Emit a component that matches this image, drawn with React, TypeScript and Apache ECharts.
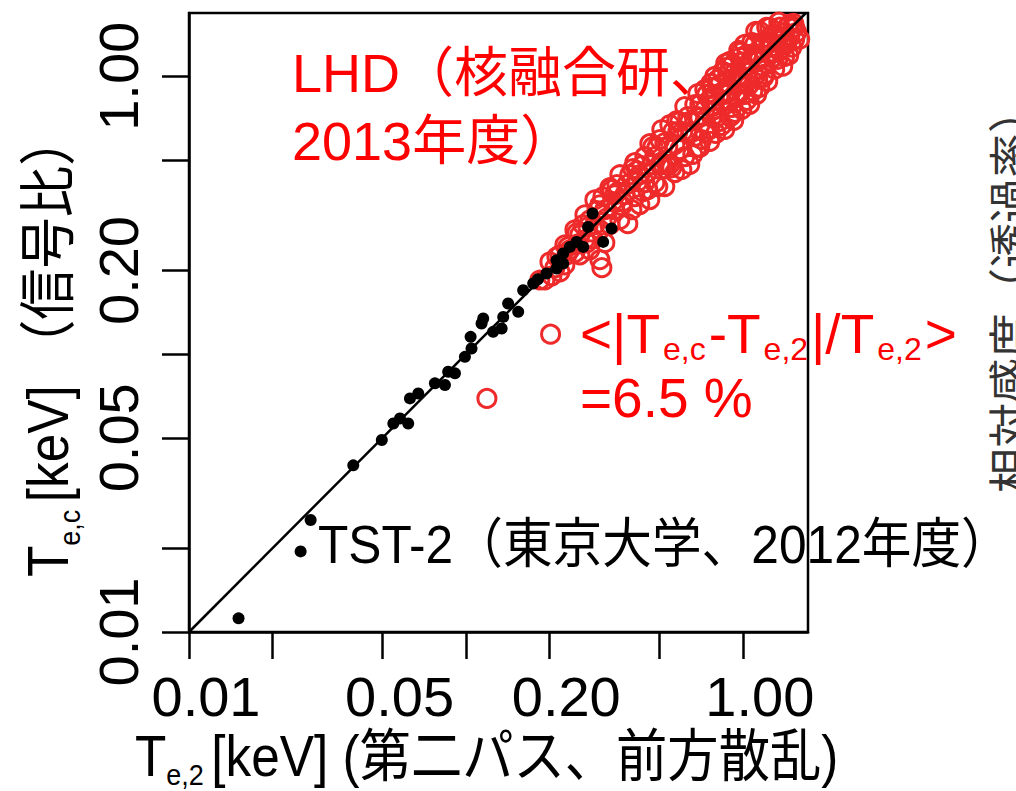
import React, { useEffect, useRef } from 'react';
import * as echarts from 'echarts';

// ---- axes ----
const AXIS_MIN = 0.01;
const X_MAX = 1.72;
const Y_MAX = 1.69;
const TICK_VALUES = [0.01, 0.02, 0.05, 0.1, 0.2, 0.5, 1];
const LABEL_VALUES = [0.01, 0.05, 0.2, 1];

// ---- y = x reference line ----
const DIAGONAL_X = [0.01, 1.69];
const DIAGONAL_Y = [0.01, 1.69];

// ---- TST-2 (東京大学, 2012) : Te,2 / Te,c [keV] ----
const TST2_TE2 = [
  0.0151, 0.0253, 0.0275, 0.0392, 0.0497, 0.0547, 0.0578, 0.0619, 0.0628, 0.0673,
  0.0773, 0.084, 0.0863, 0.0913, 0.0992, 0.1048, 0.104, 0.1139, 0.1155, 0.1254,
  0.1346, 0.1364, 0.1421, 0.1545, 0.161, 0.175, 0.182, 0.1955, 0.2126, 0.2126,
  0.2245, 0.2245, 0.2374, 0.251, 0.2652, 0.2764, 0.2867, 0.3357, 0.3131,
];
const TST2_TEC = [
  0.0112, 0.0195, 0.0253, 0.0398, 0.0491, 0.0563, 0.0587, 0.0563, 0.0693, 0.0722,
  0.0785, 0.0774, 0.0864, 0.0853, 0.0978, 0.1048, 0.1154, 0.129, 0.1344, 0.1203,
  0.1237, 0.1362, 0.1522, 0.142, 0.1699, 0.1796, 0.1861, 0.1951, 0.2033, 0.2178,
  0.212, 0.2302, 0.2432, 0.2535, 0.2432, 0.2871, 0.3207, 0.2833, 0.2535,
];

// ---- LHD (核融合研, 2013) : Te,2 / Te,c [keV] ----
const LHD_TE2 = [
  0.1849, 0.1928, 0.2011, 0.2096, 0.2185, 0.2185, 0.2278, 0.2278, 0.2335, 0.2374,
  0.2475, 0.2475, 0.2537, 0.258, 0.258, 0.269, 0.269, 0.2758, 0.2804, 0.2804,
  0.2923, 0.2923, 0.3047, 0.3047, 0.3047, 0.3098, 0.3176, 0.3176, 0.3311, 0.3311,
  0.3367, 0.3451, 0.3451, 0.3538, 0.3597, 0.3597, 0.3657, 0.3749, 0.3844, 0.3909,
  0.3975, 0.4074, 0.4074, 0.4178,
  0.4248, 0.4248, 0.4319, 0.4427, 0.4427, 0.454, 0.4616, 0.4616, 0.4694, 0.4811,
  0.4811, 0.4933, 0.5016, 0.5016, 0.51, 0.5228, 0.5228, 0.536, 0.545, 0.545,
  0.5542, 0.5681, 0.5681, 0.5825, 0.5923, 0.5923, 0.6023, 0.6173, 0.6173, 0.633,
  0.6436, 0.6436, 0.6544, 0.6708, 0.6708, 0.6877, 0.6993, 0.6993,
  0.7289, 0.7289, 0.7289, 0.76, 0.76, 0.7728, 0.7921, 0.7921, 0.8124, 0.826,
  0.826, 0.8399, 0.8607, 0.8607, 0.8827, 0.8975, 0.8975, 0.9126, 0.9353, 0.9353,
  0.9593, 0.9754, 0.9754, 0.9918, 1.0163, 1.0163, 1.0424, 1.0599, 1.0599, 1.0777,
  1.1044, 1.1044, 1.1328, 1.1518, 1.1518, 1.1518, 1.1712, 1.2, 1.2, 1.2308,
  1.2515, 1.2515, 1.2725, 1.304, 1.304, 1.3376, 1.3601, 1.3601, 1.383, 1.417,
  1.417, 1.4535, 1.4779, 1.4779, 1.5027, 1.5397, 1.5397, 1.5656,
  0.6993, 0.76, 0.7921, 0.8399, 0.8752, 0.9201, 0.951, 1.0, 1.0334, 1.0866,
  1.123, 1.1808, 1.2202, 1.283, 1.3259, 1.3944, 1.4408, 1.5151, 1.123, 0.9918,
  0.8752, 0.7728, 0.6821, 0.6277, 0.5776, 0.5316, 0.4892, 0.4501, 0.4142, 0.3812,
  0.3509, 0.3229, 0.2972, 0.2735, 0.2517, 0.2316, 0.2131, 0.2045,
  0.711, 0.7411, 0.7791, 0.8054, 0.8468, 0.89, 0.9275, 0.9673, 1.0078, 1.0511,
  1.0952, 1.1422, 1.19, 1.2411, 1.2931, 1.3488, 1.4052, 1.4656, 1.5269, 1.6048,
  0.6877, 0.6598, 0.6072, 0.5587, 0.5142, 0.4732, 0.4355, 0.4008, 0.3688, 0.3394,
  0.3124, 0.2875, 0.2645, 1.0334, 0.905, 0.7988, 1.1137, 0.9836, 0.8679, 0.7664,
  0.1191, 0.2022,
];
const LHD_TEC = [
  0.1849, 0.1849, 0.215, 0.2045, 0.2277, 0.1977, 0.2474, 0.2096, 0.2433, 0.2374,
  0.2802, 0.2317, 0.2496, 0.2688, 0.2278, 0.3174, 0.258, 0.2874, 0.3045, 0.2375,
  0.3595, 0.2923, 0.3449, 0.2803, 0.2188, 0.2048, 0.3309, 0.2519, 0.3973, 0.2924,
  0.3909, 0.3748, 0.331, 0.3842, 0.4424, 0.3047, 0.3423, 0.3749, 0.2948, 0.4425,
  0.3311, 0.3687, 0.4889, 0.4178,
  0.4426, 0.3454, 0.4773, 0.514, 0.4144, 0.3909, 0.5724, 0.36, 0.4812, 0.5143,
  0.4142, 0.4011, 0.5919, 0.481, 0.6431, 0.401, 0.5777, 0.5585, 0.6704, 0.4812,
  0.4694, 0.5681, 0.4505, 0.6326, 0.6877, 0.5449, 0.462, 0.7784, 0.5142, 0.7166,
  0.688, 0.4814, 0.6276, 0.7915, 0.6071, 0.8672, 0.5545, 0.711,
  0.8965, 0.6276, 0.7595, 0.8254, 0.5829, 0.711, 0.7596, 0.9988, 0.9749, 0.935,
  0.6881, 0.666, 0.6438, 0.8607, 1.0248, 1.1317, 0.8122, 0.773, 1.0335, 0.7417,
  0.9996, 0.9515, 1.1705, 1.1227, 0.8608, 1.3029, 0.9757, 1.133, 0.7928, 1.3256,
  1.3032, 0.9995, 0.9753, 0.9134, 1.4524, 1.171, 1.3258, 1.326, 1.0164, 0.96,
  1.5018, 1.2002, 1.2725, 1.0602, 1.394, 1.1517, 1.5029, 1.2309, 1.3603, 1.1804,
  1.4407, 1.5145, 1.3833, 1.54, 1.2728, 1.3596, 1.502, 1.4404,
  0.7916, 0.6437, 0.8602, 0.8752, 0.8192, 1.1041, 0.8397, 1.0, 1.1998, 0.8834,
  1.2005, 1.0863, 1.5008, 1.4177, 1.2715, 1.0876, 1.3039, 1.4903, 0.8613, 0.7607,
  1.0765, 0.9119, 0.5545, 0.6277, 0.6931, 0.4811, 0.5538, 0.4501, 0.4577, 0.4075,
  0.4074, 0.3097, 0.3284, 0.2516, 0.2733, 0.2278, 0.224, 0.1914,
  0.5923, 0.8604, 0.7791, 0.7112, 1.0416, 0.8754, 0.6938, 1.2401, 1.0773, 0.9281,
  1.2102, 1.1422, 0.9913, 1.3267, 1.1703, 1.566, 1.3153, 1.1915, 1.5524, 1.3593,
  0.7166, 0.5232, 0.6327, 0.6325, 0.4813, 0.5584, 0.3845, 0.4653, 0.3537, 0.3537,
  0.3686, 0.2602, 0.2923, 0.8195, 0.7177, 0.6231, 1.4517, 1.2197, 1.1127, 0.9427,
  0.0693, 0.118,
];

// ---- texts ----
const LHD_LABEL = 'LHD（核融合研、\n2013年度）';
const TST2_LABEL = 'TST-2（東京大学、2012年度）';
const MEAN_ERROR_LABEL = '{m|<|T}{s|e,c}{m|-T}{s|e,2}{m||/T}{s|e,2}{m|>}\n{n|=6.5 %}';
const X_TITLE = '{m|T}{s|e,2 }{m|[keV] (第二パス、前方散乱)}';
const Y_TITLE = '{m|T}{s|e,c }{m|[keV] （信号比）}';
const RIGHT_TEXT = '相対感度（透過率）';

const FONT = '"Liberation Sans", Arial, Helvetica, "Noto Sans CJK JP", sans-serif';
const RED = '#ff0000';
const CIRCLE_RED = '#ee2a2a';

function richSet(main: number, sub: number, pad: number, color: string, side = 0) {
  return {
    m: { fontSize: main, lineHeight: main, fontFamily: FONT, fill: color, verticalAlign: 'top' },
    s: { fontSize: sub, lineHeight: sub, fontFamily: FONT, fill: color, verticalAlign: 'top', padding: [pad, side, 0, side] },
    n: { fontSize: main, lineHeight: main, fontFamily: FONT, fill: color, verticalAlign: 'top', padding: [9, 0, 0, 0] },
  };
}

export default function App() {
  const ref = useRef<HTMLDivElement>(null);

  useEffect(() => {
    document.body.style.margin = '0';
    if (!ref.current) return;
    const chart = echarts.init(ref.current, undefined, { renderer: 'svg' });

    const lhd = LHD_TE2.map((x, i) => [x, LHD_TEC[i]]);
    const tst = TST2_TE2.map((x, i) => [x, TST2_TEC[i]]);
    const diag = DIAGONAL_X.map((x, i) => [x, DIAGONAL_Y[i]]);

    const axisCommon = {
      type: 'log' as const,
      logBase: 10,
      min: AXIS_MIN,
      axisLine: { show: true, onZero: false, lineStyle: { color: '#000', width: 2.5 } },
      axisTick: { show: true, inside: false, length: 27, customValues: TICK_VALUES, lineStyle: { color: '#000', width: 2.5 } },
      splitLine: { show: false },
      minorTick: { show: false },
      minorSplitLine: { show: false },
    };

    chart.setOption({
      animation: false,
      backgroundColor: '#fff',
      grid: {
        left: 189, top: 13, width: 619, height: 619,
        show: true, borderColor: '#000', borderWidth: 2.5, backgroundColor: 'transparent',
        containLabel: false, outerBoundsMode: 'none',
      },
      xAxis: {
        ...axisCommon,
        max: X_MAX,
        axisLabel: {
          show: true, customValues: LABEL_VALUES,
          formatter: (v: number) => Number(v).toFixed(2),
          fontSize: 56, lineHeight: 56, fontFamily: FONT, color: '#000',
          margin: 36, padding: [0, 0, 0, 34],
        },
      },
      yAxis: {
        ...axisCommon,
        max: Y_MAX,
        axisLabel: {
          show: true, customValues: LABEL_VALUES, rotate: 90,
          formatter: (v: number) => Number(v).toFixed(2),
          fontSize: 56, lineHeight: 56, fontFamily: FONT, color: '#000',
          margin: 43,
        },
      },
      series: [
        {
          name: 'LHD', type: 'scatter', data: lhd, symbol: 'circle', symbolSize: 18,
          itemStyle: { color: 'rgba(0,0,0,0)', borderColor: CIRCLE_RED, borderWidth: 3, opacity: 1 },
          emphasis: { disabled: true }, silent: true,
        },
        {
          name: 'y=x', type: 'line', data: diag, showSymbol: false, symbol: 'none',
          lineStyle: { color: '#000', width: 2.5 }, silent: true,
        },
        {
          name: 'TST-2', type: 'scatter', data: tst, symbol: 'circle', symbolSize: 12,
          itemStyle: { color: '#000', opacity: 1 }, emphasis: { disabled: true }, silent: true,
        },
      ],
      graphic: [
        {
          type: 'text', x: 292, y: 39,
          style: { text: LHD_LABEL, fill: RED, fontSize: 54, lineHeight: 68, fontFamily: FONT, textAlign: 'left', textVerticalAlign: 'top' },
        },
        {
          type: 'text', x: 318, y: 517, scaleX: 0.92,
          style: { text: TST2_LABEL, fill: '#000', fontSize: 54, lineHeight: 54, fontFamily: FONT, textAlign: 'left', textVerticalAlign: 'top' },
        },
        {
          type: 'text', x: 580, y: 306,
          style: { text: MEAN_ERROR_LABEL, rich: richSet(55, 32, 27, RED, 3), textAlign: 'left', textVerticalAlign: 'top' },
        },
        {
          type: 'text', x: 135, y: 728, scaleX: 0.9,
          style: { text: X_TITLE, rich: richSet(57, 30, 31, '#000'), textAlign: 'left', textVerticalAlign: 'top' },
        },
        {
          type: 'text', x: 20, y: 577, rotation: Math.PI / 2, scaleX: 0.9,
          style: { text: Y_TITLE, rich: richSet(57, 30, 34, '#000'), textAlign: 'left', textVerticalAlign: 'top' },
        },
        {
          type: 'text', x: 1012, y: 493, rotation: Math.PI / 2,
          style: { text: RIGHT_TEXT, fill: '#333', fontSize: 45, lineHeight: 45, fontFamily: FONT, textAlign: 'left', textVerticalAlign: 'middle' },
        },
      ],
    });

    return () => chart.dispose();
  }, []);

  return <div ref={ref} style={{ width: 1016, height: 791 }} />;
}
